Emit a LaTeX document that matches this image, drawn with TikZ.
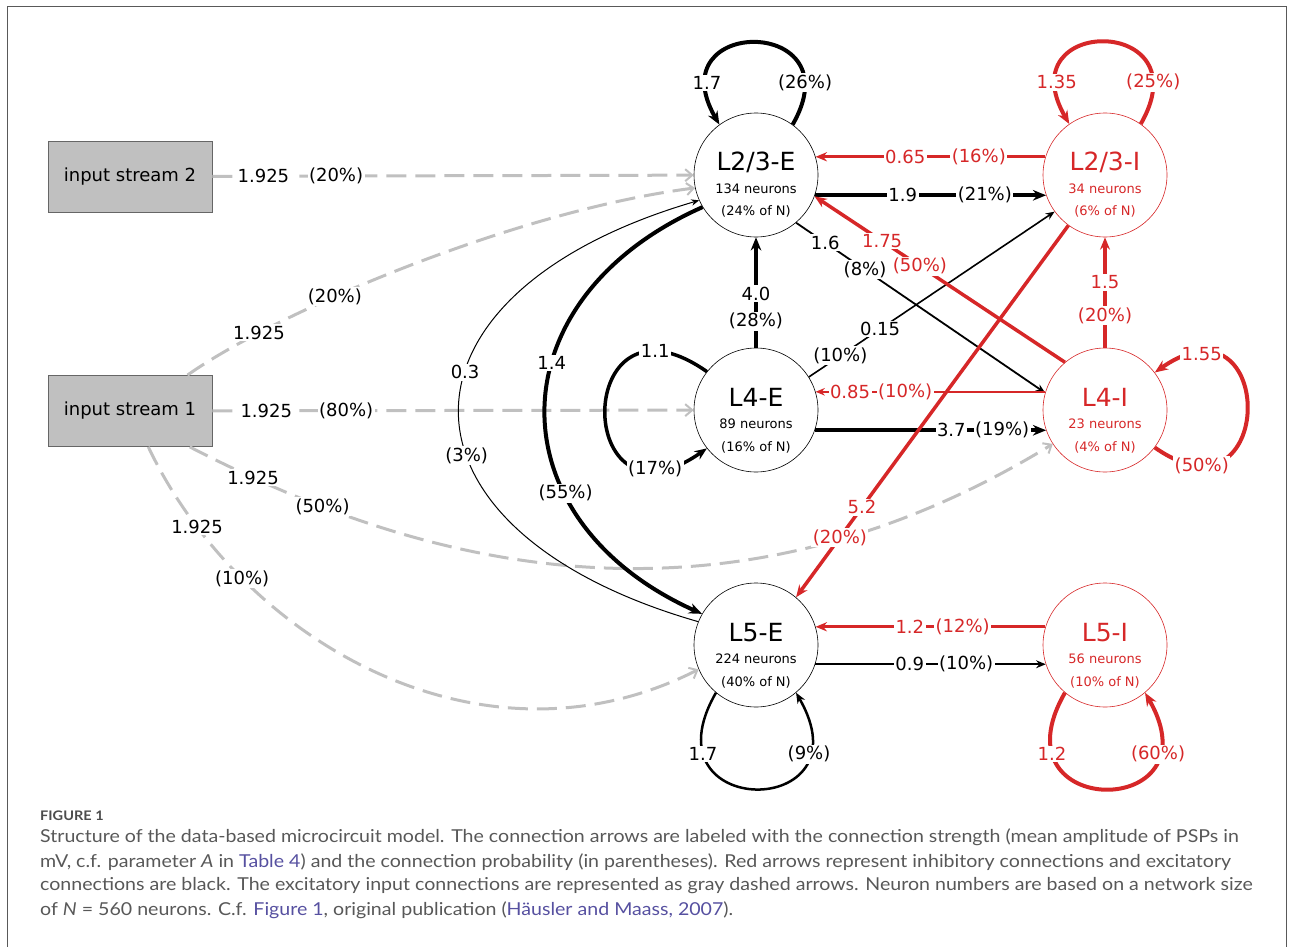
\documentclass[tikz,border=0pt]{standalone}
\usepackage{fontspec}
\setmainfont{DejaVu Sans}
\newfontfamily\capfont[FakeStretch=1.1]{Lato}
\usetikzlibrary{arrows.meta}

\definecolor{inhred}{RGB}{214,39,40}
\definecolor{ingray}{RGB}{192,192,192}
\definecolor{capgray}{RGB}{88,88,88}
\definecolor{linkblue}{RGB}{86,80,160}

\newcommand{\pop}[3]{\begin{tabular}[t]{@{}c@{}}{\fontsize{25}{22.5}\selectfont #1}\\ #2 neurons\\ (#3 of N)\end{tabular}}
\newcommand{\caplink}[1]{\textcolor{linkblue}{#1}}

\tikzset{
  exc/.style={circle, draw, line width=0.6pt, minimum size=124pt, inner sep=0pt, text height=20pt, text depth=28pt, font=\fontsize{13}{22.5}\selectfont},
  inh/.style={exc, draw=inhred, text=inhred},
  stream/.style={rectangle, draw=black!60, fill=ingray, line width=0.8pt, minimum width=164pt, minimum height=71pt, font=\fontsize{18}{20}\selectfont},
  lbl/.style={fill=white, inner sep=1.5pt, font=\fontsize{18}{20}\selectfont},
  exarrow/.style={-{Stealth[length=6pt 1.8,width=5pt 1.4]}},
  inarrow/.style={-{Stealth[length=6pt 1.8,width=5pt 1.4]}, inhred},
  inputarrow/.style={draw=ingray, line width=3pt, dash pattern=on 20pt off 9pt, -{Straight Barb[length=7pt,width=12pt,line width=2pt]}},
  capline/.style={anchor=west, inner sep=0pt, text=capgray, font=\capfont\fontsize{17.8}{20}\selectfont}
}

\begin{document}
\begin{tikzpicture}[x=1pt,y=1pt]
\useasboundingbox (0,0) rectangle (1293,-947);
% draw frame
\draw[black!65, line width=1pt] (7,-947) -- (7,-7) -- (1286,-7) -- (1286,-947);
% draw input streams
\node[stream] (is2) at (130,-176.5) {input stream 2};
\node[stream] (is1) at (130,-411) {input stream 1};
% draw populations
\node[exc] (L23E) at (756,-175) {\pop{L2/3-E}{134}{24\%}};
\node[inh] (L23I) at (1105,-175) {\pop{L2/3-I}{34}{6\%}};
\node[exc] (L4E) at (756,-410) {\pop{L4-E}{89}{16\%}};
\node[inh] (L4I) at (1105,-410) {\pop{L4-I}{23}{4\%}};
\node[exc] (L5E) at (756,-645) {\pop{L5-E}{224}{40\%}};
\node[inh] (L5I) at (1105,-645) {\pop{L5-I}{56}{10\%}};
% draw input connections
\draw[inputarrow] (is2) -- node[lbl,pos=.106] (s1) {1.925} node[lbl,pos=.257] (p1) {(20\%)} (L23E);
\draw[inputarrow] (is1) -- node[lbl,pos=.112] (s2) {1.925} node[lbl,pos=.278] (p2) {(80\%)} (L4E);
\draw[inputarrow] (is1.32) .. controls (280,-310) and (520,-210) .. (L23E.192) node[lbl,pos=.2] (s3) {1.925} node[lbl,pos=.36] (p3) {(20\%)};
\draw[inputarrow] (is1.-31) .. controls (390,-550) and (700,-660) .. (L4I.213) node[lbl,pos=.1] (s4) {1.925} node[lbl,pos=.2] (p4) {(50\%)};
\draw[inputarrow] (is1.-63) .. controls (240,-640) and (480,-780) .. (L5E.203) node[lbl,pos=.145] (s5) {1.925} node[lbl,pos=.25] (p5) {(10\%)};
% draw excitatory connections
\draw[exarrow, line width=4pt] (L23E.-19) -- node[lbl,pos=.38] (s6) {1.9} node[lbl,pos=.735] (p6) {(21\%)} (L23I.199);
\draw[exarrow, line width=1.8pt] (L23E.-50) -- node[lbl,pos=.117] (s7) {1.6} node[lbl,pos=.277] (p7) {(8\%)} (L4I.164);
\draw[exarrow, line width=4pt] (L4E) -- node[lbl,pos=.49] (s8) {4.0} node[lbl,pos=.24] (p8) {(28\%)} (L23E);
\draw[exarrow, line width=1.6pt] (L4E.32) -- node[lbl,pos=.29] (s9) {0.15} node[lbl,pos=.128] (p9) {(10\%)} (L23I.216);
\draw[exarrow, line width=4pt] (L4E.-19) -- node[lbl,pos=.59] (s10) {3.7} node[lbl,pos=.81] (p10) {(19\%)} (L4I.199);
\draw[exarrow, line width=4pt] (L23E.211) .. controls (493,-300) and (493,-520) .. (L5E.150) node[lbl,pos=.4] (s11) {1.4} node[lbl,pos=.68] (p11) {(55\%)};
\draw[exarrow, line width=1pt] (L5E.158) .. controls (379,-530) and (379,-294) .. (L23E.204) node[lbl,pos=.58] (s12) {0.3} node[lbl,pos=.41] (p12) {(3\%)};
\draw[exarrow, line width=2pt] (L5E.-18) -- node[lbl,pos=.41] (s13) {0.9} node[lbl,pos=.655] (p13) {(10\%)} (L5I.198);
% draw inhibitory connections
\draw[inarrow, line width=3pt] (L23I.163) -- node[lbl,pos=.61] (s14) {0.65} node[lbl,pos=.29] (p14) {(16\%)} (L23E.17);
\draw[inarrow, line width=3.5pt] (L4I.130) -- node[lbl,pos=.73] (s15) {1.75} node[lbl,pos=.579] (p15) {(50\%)} (L23E.-20);
\draw[inarrow, line width=3.5pt] (L4I) -- node[lbl,pos=.59] (s16) {1.5} node[lbl,pos=.29] (p16) {(20\%)} (L23I);
\draw[inarrow, line width=1.8pt] (L4I.163) -- node[lbl,pos=.85] (s17) {0.85} node[lbl,pos=.61] (p17) {(10\%)} (L4E.17);
\draw[inarrow, line width=3.5pt] (L23I.234) -- node[lbl,pos=.758] (s18) {5.2} node[lbl,pos=.839] (p18) {(20\%)} (L5E.50);
\draw[inarrow, line width=3pt] (L5I.163) -- node[lbl,pos=.59] (s19) {1.2} node[lbl,pos=.36] (p19) {(12\%)} (L5E.17);
% draw recurrent connections
\draw[exarrow, line width=4pt] (L23E.54) to[out=60,in=120,distance=126pt] node[lbl,pos=.15] (p20) {(26\%)} node[lbl,pos=.85] (s20) {1.7} (L23E.126);
\draw[inarrow, line width=4pt] (L23I.55) to[out=60,in=120,distance=126pt] node[lbl,pos=.15] (p21) {(25\%)} node[lbl,pos=.85] (s21) {1.35} (L23I.125);
\draw[exarrow, line width=3.5pt] (L4E.142) to[out=145,in=215,distance=165pt] node[lbl,pos=.15] (s22) {1.1} node[lbl,pos=.85] (p22) {(17\%)} (L4E.218);
\draw[inarrow, line width=4pt] (L4I.-37) to[out=-35,in=35,distance=150pt] node[lbl,pos=.15] (p23) {(50\%)} node[lbl,pos=.85] (s23) {1.55} (L4I.37);
\draw[exarrow, line width=2.5pt] (L5E.-130) to[out=-120,in=-60,distance=148pt] node[lbl,pos=.2] (s24) {1.7} node[lbl,pos=.8] (p24) {(9\%)} (L5E.-50);
\draw[inarrow, line width=4pt] (L5I.-130) to[out=-120,in=-60,distance=148pt] node[lbl,pos=.2] (s25) {1.2} node[lbl,pos=.8] (p25) {(60\%)} (L5I.-50);
% draw caption
\node[capline, text=black!70, font=\capfont\bfseries\fontsize{13.2}{15}\selectfont] (figno) at (40,-816) {FIGURE 1};
\node[capline] (cap1) at (40,-837) {Structure of the data-based microcircuit model. The connection arrows are labeled with the connection strength (mean amplitude of PSPs in};
\node[capline] (cap2) at (40,-862) {mV, c.f. parameter \textit{A} in \caplink{Table 4}) and the connection probability (in parentheses). Red arrows represent inhibitory connections and excitatory};
\node[capline] (cap3) at (40,-886) {connections are black. The excitatory input connections are represented as gray dashed arrows. Neuron numbers are based on a network size};
\node[capline] (cap4) at (40,-910) {of \textit{N} = 560 neurons. C.f. \caplink{Figure 1}, original publication (\caplink{Häusler and Maass, 2007}).};
\end{tikzpicture}
\end{document}
